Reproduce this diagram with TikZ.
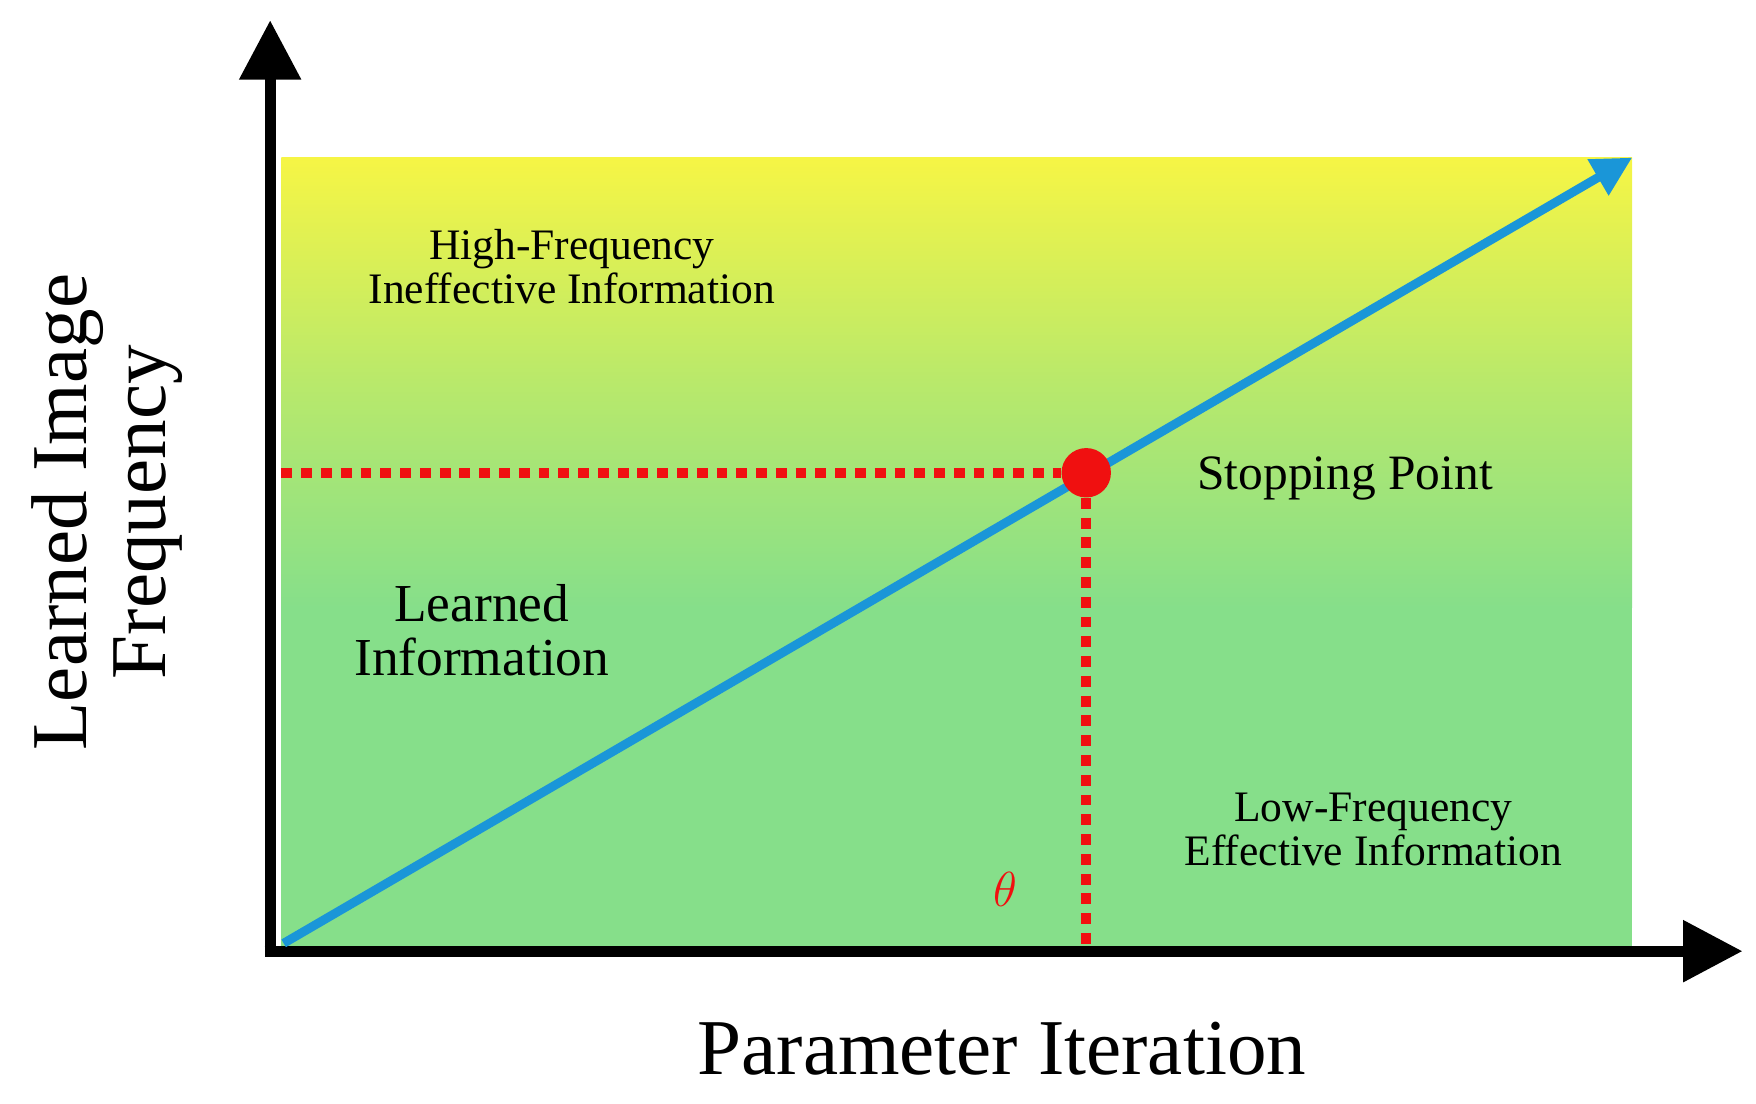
\documentclass[tikz,border=0pt]{standalone}
\usepackage{fontspec}
\setmainfont{Liberation Serif}
\usetikzlibrary{arrows.meta}
\definecolor{yel}{HTML}{F6F545}
\definecolor{grn}{HTML}{86DF8A}
\definecolor{blu}{HTML}{1A96D8}
\definecolor{rd}{HTML}{F01010}
\begin{document}
\begin{tikzpicture}[x=0.02cm,y=-0.02cm,
  lbl/.style={align=center,font=\fontsize{#1}{#1*1.2}\selectfont,inner sep=0pt},
  dots/.style={rd,line width=5pt,dash pattern=on 5.5pt off 4.5pt}]
\useasboundingbox (0,0) rectangle (1560,980);
\shade[top color=yel,bottom color=grn,middle color={yel!45!grn}] (250,140) rectangle (1450,540);
\fill[grn] (250,539) rectangle (1450,840);
\coordinate (O) at (240,845);
\coordinate (Y) at (240,18);
\coordinate (X) at (1548,845);
\draw[line width=5.5pt,-{Triangle[length=30pt,width=30pt]}] (240,850) -- (Y);
\draw[line width=5.5pt,-{Triangle[length=30pt,width=30pt]}] (235,845) -- (X);
\coordinate (S) at (252,838);
\coordinate (E) at (1450,140);
\draw[blu,line width=4.5pt,-{Triangle[length=20pt,width=20pt]}] (S) -- (E);
\coordinate (H0) at (250,420);
\coordinate (V0) at (965,842);
\node[circle,fill=rd,minimum size=25pt,inner sep=0pt] (P) at (965,420) {};
\draw[dots] (H0) -- (P.west);
\draw[dots] (P.south) -- (V0);
\node[lbl=22pt] (hf) at (508,237) {High-Frequency\\Ineffective Information};
\node[lbl=27pt] (li) at (428,560) {Learned\\Information};
\node[lbl=25pt] (sp) at (1195,425) {Stopping Point};
\node[lbl=22pt] (lf) at (1220,737) {Low-Frequency\\Effective Information};
\node[lbl=32pt,text=rd] (th) at (893,790) {$\theta$};
\node[lbl=40pt,rotate=90] (yl) at (95,455) {Learned Image\\Frequency};
\node[lbl=40pt] (xl) at (890,932) {Parameter Iteration};
\end{tikzpicture}
\end{document}
